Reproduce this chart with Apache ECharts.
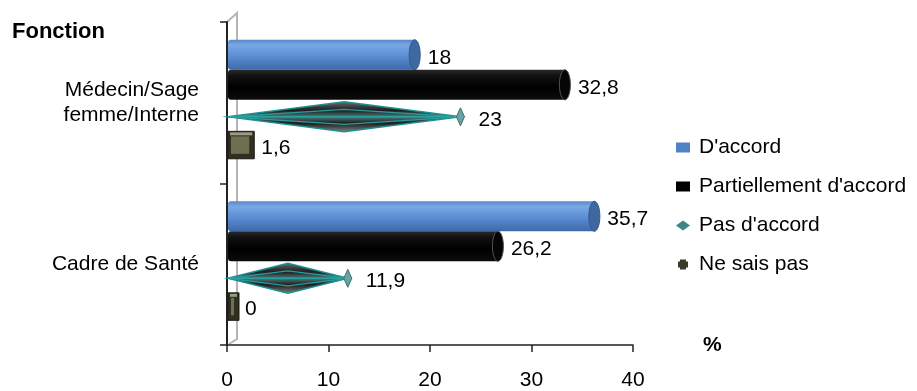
<!DOCTYPE html>
<html>
<head>
<meta charset="utf-8">
<script src="https://cdn.jsdelivr.net/npm/echarts@6/dist/echarts.min.js"></script>
<style>
  html, body { margin: 0; padding: 0; background: #fff; }
  #chart { width: 917px; height: 391px; }
</style>
</head>
<body>
<div id="chart"></div>
<script>
// Survey answers by job group (percentages)
const categories = ['Médecin/Sage\nfemme/Interne', 'Cadre de Santé'];
const seriesNames = ["D'accord", "Partiellement d'accord", "Pas d'accord", 'Ne sais pas'];
const accord = [18, 35.7];
const partiel = [32.8, 26.2];
const pasAccord = [23, 11.9];
const neSaisPas = [1.6, 0];
const xTicks = [0, 10, 20, 30, 40];

const FONT = '"Liberation Sans", Arial, Helvetica, sans-serif';
const GRID = { left: 227, right: 284, top: 22, bottom: 46 };

const fmt = v => String(v).replace('.', ',');

function valueText(x, y, v) {
  return {
    type: 'text',
    style: {
      text: fmt(v), x: x + 18, y: y + 3,
      align: 'left', verticalAlign: 'middle',
      fill: '#000', fontSize: 21, fontFamily: FONT
    },
    z2: 10
  };
}

// Each series is drawn as a pseudo-3D shape inside its slot of the category band.
function makeRenderer(kind, offset, heightFrac, colors) {
  return function (params, api) {
    const v = api.value(0);
    const ci = api.value(1);
    const p = api.coord([v, ci]);
    const p0 = api.coord([0, ci]);
    const band = api.size([0, 1])[1];
    const xv = p[0], x0 = p0[0] + 1;
    const c = p[1] + band * offset;
    const h = band * heightFrac;
    const children = [];

    if (kind === 'cylinder') {
      const xe = xv + 5;
      children.push({
        type: 'rect',
        shape: { x: x0, y: c - h / 2, width: Math.max(xe - x0, 1), height: h, r: [3, 0, 0, 3] },
        style: {
          fill: new echarts.graphic.LinearGradient(0, 0, 0, 1, colors.body)
        }
      });
      children.push({
        type: 'ellipse',
        shape: { cx: xe, cy: c, rx: 5.5, ry: h / 2 },
        style: { fill: colors.cap, stroke: colors.capStroke, lineWidth: 1 }
      });
    } else if (kind === 'diamond') {
      const xm = (x0 + xv) / 2;
      // dark lens behind the teal outline
      children.push({
        type: 'polygon',
        shape: { points: [[x0, c], [xm, c - h / 2], [xv, c], [xm, c + h / 2]] },
        style: {
          fill: new echarts.graphic.LinearGradient(0, 0, 0, 1, [
            { offset: 0, color: 'rgba(0,0,0,0.55)' },
            { offset: 0.3, color: '#1b1f1f' },
            { offset: 0.5, color: '#4d7a7a' },
            { offset: 0.7, color: '#1b1f1f' },
            { offset: 1, color: 'rgba(0,0,0,0.45)' }
          ]),
          stroke: '#1f8e8e', lineWidth: 1.5
        }
      });
      children.push({
        type: 'polygon',
        shape: { points: [[x0, c], [xm, c - h / 4], [xv, c], [xm, c + h / 4]] },
        style: { fill: null, stroke: '#2a9c9c', lineWidth: 1.2 }
      });
      children.push({
        type: 'polyline',
        shape: { points: [[x0, c], [xv, c]] },
        style: { stroke: '#2aa0a0', lineWidth: 1.5 }
      });
      children.push({
        type: 'polygon',
        shape: { points: [[xv, c - 9], [xv + 4, c], [xv, c + 9], [xv - 4, c]] },
        style: { fill: '#6aa3a3', stroke: '#3b7070', lineWidth: 1 }
      });
    } else {
      const w = Math.max(xv - x0, 0) + 11;
      children.push({
        type: 'rect',
        shape: { x: x0, y: c - h / 2, width: w, height: h },
        style: { fill: '#2f2f22', stroke: '#1a1a12', lineWidth: 1 }
      });
      children.push({
        type: 'rect',
        shape: { x: x0 + 3, y: c - h / 2 + 5, width: Math.max(w - 8, 2), height: h - 10 },
        style: { fill: '#6f6f52' }
      });
      children.push({
        type: 'rect',
        shape: { x: x0 + 2, y: c - h / 2 + 1, width: Math.max(w - 4, 2), height: 3 },
        style: { fill: '#9a9a86' }
      });
    }
    children.push(valueText(xv, c, v));
    return { type: 'group', children: children };
  };
}

const toData = arr => arr.map((v, i) => [v, i]);

const series = [
  {
    name: seriesNames[0], type: 'custom', encode: { x: 0, y: 1 },
    itemStyle: { color: '#4f81c7' },
    renderItem: makeRenderer('cylinder', -0.297, 0.186, {
      body: [
        { offset: 0, color: '#5a88c8' },
        { offset: 0.18, color: '#79a8e4' },
        { offset: 0.55, color: '#5b8dd3' },
        { offset: 1, color: '#3d69a8' }
      ],
      cap: '#3f68a0', capStroke: '#35598a'
    }),
    data: toData(accord)
  },
  {
    name: seriesNames[1], type: 'custom', encode: { x: 0, y: 1 },
    itemStyle: { color: '#000' },
    renderItem: makeRenderer('cylinder', -0.111, 0.186, {
      body: [
        { offset: 0, color: '#2a2a2a' },
        { offset: 0.2, color: '#111' },
        { offset: 0.6, color: '#000' },
        { offset: 1, color: '#0c0c0c' }
      ],
      cap: '#050505', capStroke: '#555'
    }),
    data: toData(partiel)
  },
  {
    name: seriesNames[2], type: 'custom', encode: { x: 0, y: 1 },
    itemStyle: { color: '#3f8585' },
    renderItem: makeRenderer('diamond', 0.087, 0.186, {}),
    data: toData(pasAccord)
  },
  {
    name: seriesNames[3], type: 'custom', encode: { x: 0, y: 1 },
    itemStyle: { color: '#3b3b2c' },
    renderItem: makeRenderer('box', 0.262, 0.17, {}),
    data: toData(neSaisPas)
  }
];

const chart = echarts.init(document.getElementById('chart'), null, { renderer: 'canvas' });

const wallX = GRID.left + 10;
const plotBottom = 391 - GRID.bottom;

chart.setOption({
  animation: false,
  backgroundColor: '#fff',
  textStyle: { fontFamily: FONT },
  title: {
    text: 'Fonction', left: 12, top: 21, padding: 0,
    textStyle: { fontFamily: FONT, fontSize: 22, fontWeight: 'bold', color: '#000' }
  },
  grid: GRID,
  legend: {
    orient: 'vertical', left: 676, top: 137, padding: 0,
    itemWidth: 14, itemHeight: 10, itemGap: 18,
    textStyle: { fontFamily: FONT, fontSize: 21, color: '#000', lineHeight: 21, padding: [0, 0, 0, 4] },
    data: [
      { name: seriesNames[0], icon: 'rect' },
      { name: seriesNames[1], icon: 'rect' },
      { name: seriesNames[2], icon: 'diamond' },
      { name: seriesNames[3], icon: 'path://M2,0L8,0L8,2L10,2L10,8L8,8L8,10L2,10L2,8L0,8L0,2L2,2Z' }
    ]
  },
  xAxis: {
    type: 'value',
    min: xTicks[0], max: xTicks[xTicks.length - 1], interval: xTicks[1] - xTicks[0],
    axisLine: { show: true, lineStyle: { color: '#222', width: 1.5 } },
    axisTick: { show: true, length: 7, lineStyle: { color: '#222', width: 1.5 } },
    axisLabel: { fontSize: 21, color: '#000', margin: 25, fontFamily: FONT },
    splitLine: { show: false },
    name: '%', nameLocation: 'end', nameGap: 70,
    nameTextStyle: { fontSize: 21, fontWeight: 'bold', color: '#000', fontFamily: FONT, verticalAlign: 'middle', padding: [0, 0, 0, 0] }
  },
  yAxis: {
    type: 'category', inverse: true, data: categories,
    axisLine: { show: true, lineStyle: { color: '#222', width: 2 } },
    axisTick: { show: true, length: 7, lineStyle: { color: '#222', width: 1.5 } },
    axisLabel: { fontSize: 21, color: '#000', margin: 28, lineHeight: 25, align: 'right', fontFamily: FONT },
    splitLine: { show: false }
  },
  graphic: [
    {
      type: 'polyline', z: 0, silent: true,
      shape: { points: [[GRID.left, GRID.top], [wallX, GRID.top - 9], [wallX, plotBottom - 6], [GRID.left + 2, plotBottom - 1]] },
      style: { stroke: '#b5b5b5', lineWidth: 2, fill: null }
    }
  ],
  series: series
});
</script>
</body>
</html>
